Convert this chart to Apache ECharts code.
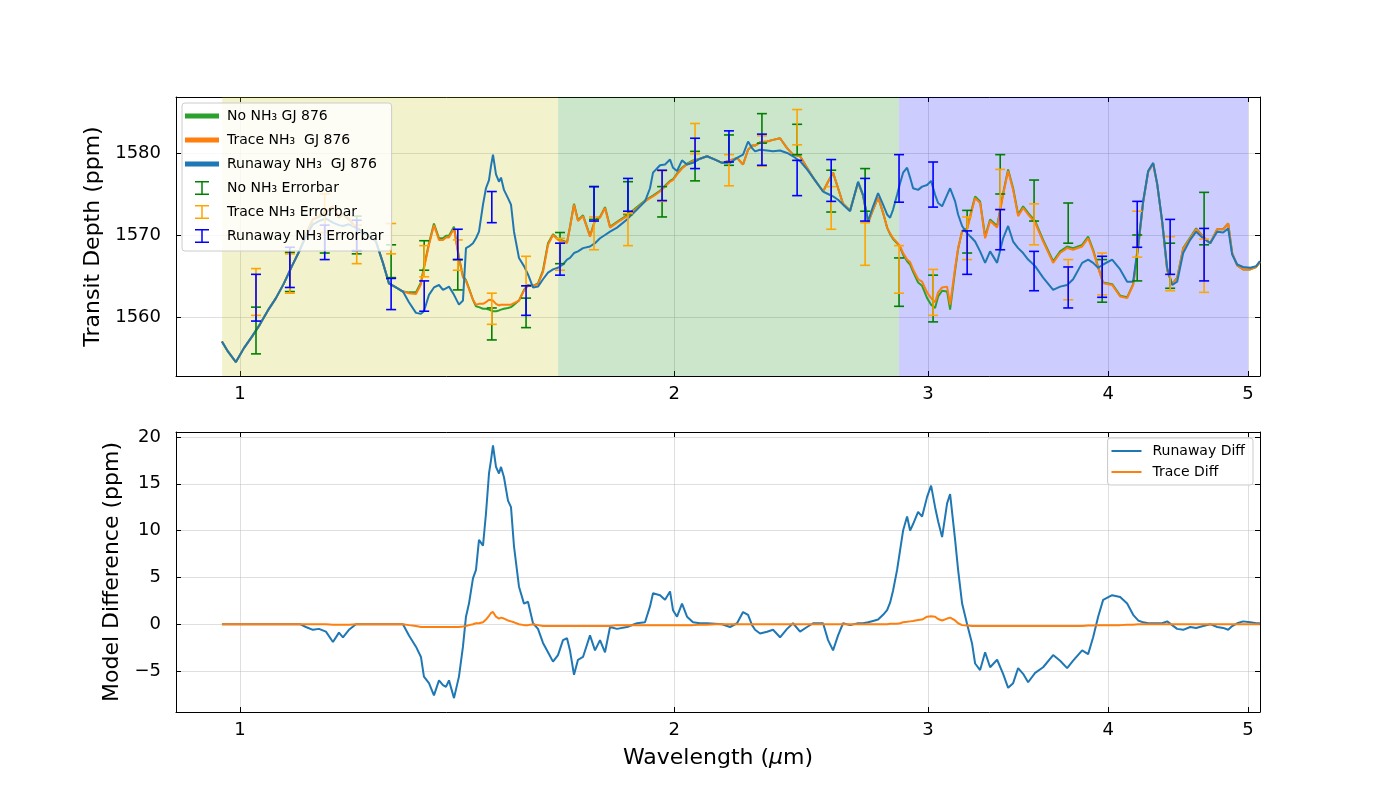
<!DOCTYPE html>
<html>
<head>
<meta charset="utf-8">
<title>GJ 876 NH3 transit depth models</title>
<script src="https://cdn.jsdelivr.net/npm/echarts@6/dist/echarts.min.js"></script>
<style>
html, body { margin: 0; padding: 0; background: #ffffff; }
#chart { width: 1400px; height: 800px; }
</style>
</head>
<body>
<div id="chart"></div>
<script>
// model spectra (wavelength in micron, depth in ppm)
var wavelength = [
  0.9717, 0.9810, 0.9936, 1.0064, 1.0194, 1.0325, 1.0457, 1.0592, 1.0728, 1.0866,
  1.1006, 1.1111, 1.1236, 1.1344, 1.1472, 1.1601, 1.1713, 1.1788, 1.1901, 1.2035,
  1.2170, 1.2307, 1.2426, 1.2565, 1.2686, 1.2829, 1.2973, 1.3098, 1.3245, 1.3351,
  1.3415, 1.3523, 1.3631, 1.3741, 1.3829, 1.3895, 1.3962, 1.4074, 1.4186, 1.4277,
  1.4346, 1.4415, 1.4507, 1.4577, 1.4647, 1.4741, 1.4811, 1.4883, 1.4930, 1.4978,
  1.5050, 1.5122, 1.5171, 1.5243, 1.5341, 1.5415, 1.5489, 1.5613, 1.5738, 1.5839,
  1.5966, 1.6094, 1.6223, 1.6353, 1.6484, 1.6616, 1.6749, 1.6857, 1.6937, 1.7046,
  1.7155, 1.7293, 1.7487, 1.7627, 1.7769, 1.7911, 1.8055, 1.8258, 1.8551, 1.8850,
  1.9092, 1.9245, 1.9338, 1.9555, 1.9712, 1.9870, 1.9965, 2.0093, 2.0254, 2.0417,
  2.0613, 2.0845, 2.1079, 2.1350, 2.1590, 2.1868, 2.2114, 2.2327, 2.2506, 2.2650,
  2.2759, 2.2941, 2.3199, 2.3422, 2.3686, 2.3952, 2.4182, 2.4454, 2.4729, 2.4967,
  2.5369, 2.5572, 2.5777, 2.5984, 2.6192, 2.6487, 2.6827, 2.7042, 2.7259, 2.7478,
  2.7698, 2.7920, 2.8099, 2.8234, 2.8369, 2.8551, 2.8688, 2.8826, 2.9011, 2.9150,
  2.9290, 2.9525, 2.9714, 2.9952, 3.0144, 3.0337, 3.0483, 3.0678, 3.0924, 3.1073,
  3.1322, 3.1472, 3.1674, 3.1928, 3.2184, 3.2338, 3.2597, 3.2859, 3.3122, 3.3494,
  3.3817, 3.4088, 3.4361, 3.4637, 3.4914, 3.5194, 3.5590, 3.6047, 3.6628, 3.7039,
  3.7456, 3.7816, 3.8364, 3.8733, 3.9043, 3.9356, 3.9672, 4.0246, 4.0764, 4.1222,
  4.1619, 4.1952, 4.2288, 4.2627, 4.2969, 4.3244, 4.3591, 4.3941, 4.4293, 4.4648,
  4.5078, 4.5584, 4.6023, 4.6541, 4.7064, 4.7593, 4.8051, 4.8436, 4.8746, 4.9137,
  4.9610, 5.0168, 5.0651, 5.0950
];

var noNH3 = [
  1557.0, 1555.8, 1554.5, 1556.2, 1557.6, 1559.1, 1560.8, 1562.3, 1564.1, 1566.2,
  1568.2, 1570.1, 1571.9, 1572.2, 1572.8, 1573.4, 1572.1, 1572.5, 1571.9, 1570.9,
  1570.4, 1569.8, 1569.2, 1566.6, 1564.1, 1563.6, 1563.1, 1563.0, 1563.0, 1564.2,
  1566.1, 1569.0, 1571.4, 1569.6, 1569.6, 1569.9, 1569.9, 1571.0, 1567.3, 1565.0,
  1564.5, 1563.5, 1562.1, 1561.3, 1561.2, 1561.0, 1561.0, 1560.9, 1560.8, 1560.7,
  1560.7, 1560.8, 1560.9, 1561.0, 1561.1, 1561.2, 1561.5, 1562.0, 1563.3, 1563.9,
  1563.8, 1564.1, 1565.7, 1569.0, 1570.1, 1569.5, 1569.3, 1569.1, 1571.0, 1573.8,
  1571.8, 1572.4, 1569.9, 1571.8, 1572.2, 1573.4, 1571.0, 1571.6, 1572.4, 1573.4,
  1574.2, 1574.6, 1574.8, 1575.4, 1576.0, 1576.6, 1576.8, 1577.5, 1578.2, 1578.7,
  1579.1, 1579.3, 1579.6, 1579.2, 1578.8, 1579.1, 1579.4, 1578.6, 1580.4, 1580.9,
  1580.9, 1581.3, 1581.4, 1581.6, 1581.8, 1580.6, 1579.8, 1579.6, 1578.2, 1577.0,
  1575.3, 1576.5, 1577.6, 1575.7, 1573.8, 1573.0, 1576.4, 1574.8, 1571.5, 1573.1,
  1574.6, 1572.7, 1570.9, 1570.1, 1569.5, 1569.0, 1568.5, 1567.6, 1566.8, 1566.4,
  1565.5, 1564.2, 1563.8, 1562.3, 1561.5, 1561.1, 1562.5, 1563.2, 1563.1, 1560.9,
  1565.7, 1568.3, 1570.5, 1570.8, 1573.3, 1574.7, 1574.1, 1569.8, 1571.9, 1571.1,
  1575.1, 1578.0, 1575.7, 1572.5, 1573.5, 1572.7, 1571.7, 1569.4, 1566.8, 1568.0,
  1568.6, 1568.4, 1568.8, 1569.8, 1568.2, 1566.1, 1564.2, 1564.0, 1562.6, 1562.4,
  1564.0, 1568.5, 1574.0, 1577.7, 1578.7, 1576.2, 1571.6, 1565.7, 1564.0, 1564.8,
  1568.4, 1569.7, 1570.8, 1569.8, 1569.0, 1570.7, 1570.7, 1571.4, 1567.8, 1566.3,
  1565.8, 1565.8, 1566.1, 1566.7
];

var traceNH3 = [
  1557.0, 1555.8, 1554.5, 1556.2, 1557.6, 1559.1, 1560.8, 1562.3, 1564.1, 1566.2,
  1568.2, 1570.1, 1571.9, 1572.3, 1572.9, 1573.5, 1572.2, 1572.6, 1572.0, 1570.9,
  1570.4, 1569.8, 1569.2, 1566.6, 1564.1, 1563.6, 1563.1, 1562.9, 1562.8, 1564.0,
  1565.9, 1568.8, 1571.2, 1569.4, 1569.4, 1569.7, 1569.7, 1570.8, 1567.1, 1564.8,
  1564.4, 1563.4, 1562.1, 1561.5, 1561.6, 1561.6, 1561.8, 1562.1, 1562.2, 1562.0,
  1561.6, 1561.4, 1561.5, 1561.5, 1561.5, 1561.5, 1561.7, 1562.0, 1563.2, 1563.8,
  1563.8, 1564.0, 1565.5, 1568.8, 1570.0, 1569.4, 1569.2, 1569.0, 1570.9, 1573.7,
  1571.7, 1572.3, 1569.8, 1571.7, 1572.1, 1573.3, 1570.9, 1571.5, 1572.3, 1573.3,
  1574.1, 1574.5, 1574.7, 1575.3, 1575.9, 1576.5, 1576.7, 1577.4, 1578.1, 1578.6,
  1579.0, 1579.3, 1579.6, 1579.2, 1578.8, 1579.1, 1579.4, 1578.6, 1580.4, 1580.9,
  1580.9, 1581.3, 1581.4, 1581.6, 1581.8, 1580.6, 1579.8, 1579.6, 1578.2, 1577.0,
  1575.3, 1576.5, 1577.6, 1575.7, 1573.8, 1573.0, 1576.4, 1574.8, 1571.5, 1573.1,
  1574.6, 1572.7, 1570.9, 1570.2, 1569.6, 1569.1, 1568.6, 1567.8, 1567.0, 1566.7,
  1565.8, 1564.6, 1564.3, 1563.0, 1562.3, 1561.8, 1563.0, 1563.6, 1563.7, 1561.5,
  1566.0, 1568.4, 1570.4, 1570.7, 1573.1, 1574.5, 1573.9, 1569.6, 1571.7, 1570.9,
  1574.9, 1577.8, 1575.5, 1572.3, 1573.3, 1572.5, 1571.5, 1569.2, 1566.6, 1567.8,
  1568.4, 1568.2, 1568.6, 1569.6, 1568.0, 1566.0, 1564.1, 1563.9, 1562.5, 1562.3,
  1563.9, 1568.4, 1574.0, 1577.7, 1578.7, 1576.2, 1571.6, 1565.7, 1564.0, 1564.7,
  1568.3, 1569.6, 1570.7, 1569.8, 1569.0, 1570.7, 1570.7, 1571.4, 1567.8, 1566.3,
  1565.8, 1565.8, 1566.1, 1566.7
];

var runawayNH3 = [
  1557.0, 1555.8, 1554.5, 1556.2, 1557.6, 1559.1, 1560.8, 1562.3, 1564.1, 1566.2,
  1568.2, 1569.8, 1571.3, 1571.7, 1572.0, 1571.5, 1571.2, 1571.1, 1571.3, 1570.9,
  1570.4, 1569.8, 1569.2, 1566.6, 1564.1, 1563.6, 1563.1, 1561.8, 1560.5, 1560.4,
  1560.7, 1562.7, 1563.6, 1563.9, 1563.3, 1563.5, 1563.7, 1562.7, 1561.5, 1562.0,
  1568.4, 1568.6, 1569.0, 1569.6, 1570.4, 1573.7, 1575.7, 1576.7, 1578.4, 1579.8,
  1577.4, 1576.5, 1577.0, 1575.5, 1574.5, 1573.7, 1570.4, 1567.2, 1566.2, 1565.2,
  1563.6, 1563.7, 1564.6, 1565.4, 1565.8, 1566.0, 1566.4, 1567.0, 1567.2, 1567.8,
  1568.0, 1568.4, 1568.6, 1569.0, 1569.6, 1570.0, 1570.4, 1570.9, 1571.9, 1573.1,
  1574.1, 1575.7, 1577.6, 1578.5, 1578.6, 1579.2, 1578.2, 1577.8, 1579.1, 1578.6,
  1578.8, 1579.3, 1579.6, 1579.2, 1578.8, 1578.8, 1579.4, 1579.8, 1581.4, 1580.6,
  1580.2, 1580.4, 1580.3, 1580.2, 1580.3, 1580.0, 1579.6, 1579.0, 1578.0, 1577.0,
  1575.3, 1575.0, 1574.7, 1574.3, 1573.7, 1572.9, 1576.5, 1574.9, 1571.7, 1573.5,
  1575.1, 1573.7, 1572.5, 1572.1, 1573.1, 1574.9, 1576.3, 1577.6, 1578.2, 1577.0,
  1575.7, 1575.5, 1575.9, 1576.1, 1576.6, 1574.9, 1573.9, 1573.5, 1574.9, 1575.7,
  1574.1, 1572.5, 1571.1, 1570.2, 1569.6, 1569.2, 1568.0, 1566.6, 1568.0, 1566.6,
  1569.6, 1571.1, 1569.2, 1568.4, 1567.8, 1567.0, 1566.2, 1564.8, 1563.3, 1563.7,
  1563.9, 1564.6, 1566.6, 1567.0, 1566.6, 1566.0, 1566.4, 1567.0, 1565.8, 1564.3,
  1564.3, 1568.8, 1574.1, 1577.8, 1578.8, 1576.3, 1571.7, 1566.0, 1563.9, 1564.3,
  1567.8, 1569.4, 1570.4, 1569.6, 1569.0, 1570.4, 1570.3, 1570.8, 1567.6, 1566.4,
  1566.1, 1566.0, 1566.2, 1566.8
];

var runawayDiff = [
  0.0, 0.0, 0.0, 0.0, 0.0, 0.0, 0.0, 0.0, 0.0, 0.0,
  0.0, -0.3, -0.6, -0.5, -0.8, -1.9, -0.9, -1.4, -0.6, 0.0,
  0.0, 0.0, 0.0, 0.0, 0.0, 0.0, 0.0, -1.2, -2.4, -3.5,
  -5.6, -6.3, -7.6, -6.0, -6.5, -6.7, -6.0, -7.9, -5.6, -2.4,
  0.8, 2.2, 4.9, 5.8, 9.0, 8.4, 11.8, 16.1, 17.5, 19.1,
  16.8, 16.1, 16.8, 15.7, 13.2, 12.5, 8.3, 4.0, 2.2, 2.4,
  0.1, -0.5, -2.0, -3.0, -4.0, -3.3, -1.7, -1.5, -2.8, -5.4,
  -3.8, -3.5, -1.2, -2.8, -1.7, -3.0, -0.3, -0.5, -0.3, 0.1,
  0.2, 1.9, 3.3, 3.1, 2.6, 3.5, 1.5, 0.8, 2.2, 0.8,
  0.2, 0.1, 0.1, 0.05, 0.0, -0.3, 0.1, 1.3, 1.0, -0.1,
  -0.6, -1.0, -0.8, -0.6, -1.4, -0.5, 0.1, -0.8, -0.3, 0.1,
  0.1, -1.7, -2.8, -1.2, 0.1, -0.1, 0.1, 0.1, 0.2, 0.35,
  0.5, 1.0, 1.5, 2.3, 3.6, 5.8, 7.9, 10.0, 11.5, 10.0,
  10.7, 12.0, 11.5, 13.6, 14.8, 12.5, 11.0, 9.3, 12.9, 13.9,
  9.0, 5.8, 2.2, 0.0, -2.1, -4.2, -4.9, -3.0, -4.6, -3.8,
  -5.3, -6.8, -6.3, -4.7, -5.3, -6.2, -5.2, -4.6, -3.3, -3.9,
  -4.7, -3.9, -2.8, -3.2, -1.4, 0.8, 2.6, 3.1, 2.9, 2.2,
  1.0, 0.4, 0.2, 0.1, 0.1, 0.1, 0.1, 0.3, -0.1, -0.5,
  -0.6, -0.3, -0.4, -0.2, 0.0, -0.3, -0.4, -0.6, -0.2, 0.1,
  0.3, 0.2, 0.1, 0.1
];

var traceDiff = [
  0.0, 0.0, 0.0, 0.0, 0.0, 0.0, 0.0, 0.0, 0.0, 0.0,
  0.0, 0.0, 0.0, 0.0, 0.0, -0.05, -0.05, -0.05, -0.05, 0.0,
  0.0, 0.0, 0.0, 0.0, 0.0, 0.0, 0.0, -0.1, -0.2, -0.3,
  -0.3, -0.3, -0.3, -0.3, -0.3, -0.3, -0.3, -0.3, -0.3, -0.25,
  -0.2, -0.1, 0.0, 0.1, 0.1, 0.2, 0.5, 0.9, 1.2, 1.3,
  0.8, 0.6, 0.7, 0.6, 0.4, 0.3, 0.2, 0.0, -0.1, -0.1,
  0.0, -0.1, -0.2, -0.2, -0.2, -0.2, -0.2, -0.2, -0.2, -0.2,
  -0.2, -0.2, -0.2, -0.2, -0.2, -0.2, -0.2, -0.1, -0.1, -0.1,
  -0.1, -0.1, -0.1, -0.1, -0.1, -0.1, -0.1, -0.1, -0.1, -0.1,
  -0.1, -0.05, -0.05, 0.0, 0.0, 0.0, 0.0, 0.0, 0.0, 0.0,
  0.0, 0.0, 0.0, 0.0, 0.0, 0.0, 0.0, 0.0, 0.0, 0.0,
  0.0, 0.0, 0.0, 0.0, 0.0, 0.0, 0.0, 0.0, 0.0, 0.0,
  0.0, 0.0, 0.0, 0.05, 0.05, 0.05, 0.1, 0.2, 0.25, 0.3,
  0.35, 0.45, 0.5, 0.8, 0.85, 0.8, 0.55, 0.4, 0.6, 0.7,
  0.4, 0.1, -0.1, -0.15, -0.2, -0.2, -0.2, -0.2, -0.2, -0.2,
  -0.2, -0.2, -0.2, -0.2, -0.2, -0.2, -0.2, -0.2, -0.2, -0.2,
  -0.2, -0.2, -0.2, -0.15, -0.15, -0.1, -0.1, -0.1, -0.1, -0.05,
  -0.05, 0.0, 0.0, 0.0, 0.0, 0.0, 0.0, 0.0, 0.0, 0.0,
  0.0, 0.0, 0.0, 0.0, 0.0, 0.0, 0.0, 0.0, 0.0, 0.0,
  0.0, 0.0, 0.0, 0.0
];

// simulated observations: bar position and lower / upper end per model
var errWavelength = [1.026, 1.083, 1.145, 1.205, 1.273, 1.342, 1.416, 1.495, 1.579, 1.667,
  1.760, 1.858, 1.962, 2.068, 2.183, 2.301, 2.434, 2.570, 2.713, 2.864,
  3.024, 3.193, 3.366, 3.553, 3.752, 3.961, 4.189, 4.415, 4.661];
var noErrLow = [1555.5, 1563.1, 1567.8, 1567.7, 1564.8, 1565.7, 1563.3, 1557.2, 1558.7, 1566.5,
  1571.9, 1572.5, 1572.2, 1576.6, 1578.5, 1581.2, 1579.8, 1572.8, 1572.9, 1561.3,
  1559.4, 1567.8, 1575.0, 1571.7, 1569.0, 1561.8, 1564.4, 1563.5, 1568.8];
var noErrHigh = [1561.2, 1567.9, 1572.5, 1572.3, 1568.8, 1569.3, 1567.0, 1561.1, 1562.3, 1570.3,
  1575.9, 1576.5, 1575.9, 1580.2, 1582.2, 1584.8, 1583.5, 1577.9, 1578.1, 1567.2,
  1565.1, 1573.0, 1579.8, 1576.7, 1573.9, 1567.0, 1570.0, 1569.0, 1575.2];
var traceErrLow = [1560.2, 1562.9, 1570.3, 1566.5, 1567.7, 1564.9, 1565.7, 1559.1, 1563.8, 1565.7,
  1568.2, 1568.7, 1574.1, 1579.9, 1576.0, 1578.4, 1581.0, 1570.7, 1566.3, 1562.9,
  1560.2, 1567.0, 1573.1, 1568.8, 1562.1, 1562.7, 1567.3, 1563.2, 1563.0];
var traceErrHigh = [1565.9, 1567.7, 1575.0, 1571.2, 1571.4, 1568.7, 1569.4, 1562.9, 1567.4, 1569.6,
  1572.2, 1572.6, 1577.8, 1583.6, 1579.8, 1582.1, 1585.3, 1575.9, 1571.5, 1568.7,
  1565.8, 1572.2, 1578.0, 1573.8, 1567.0, 1567.8, 1572.9, 1569.8, 1569.5];
var runErrLow = [1559.5, 1563.6, 1567.0, 1568.1, 1560.9, 1560.7, 1567.0, 1571.5, 1560.2, 1565.1,
  1571.7, 1572.9, 1574.2, 1578.1, 1578.9, 1578.5, 1574.8, 1574.1, 1571.7, 1574.0,
  1573.4, 1565.2, 1568.2, 1563.2, 1561.1, 1562.4, 1568.5, 1565.2, 1564.4];
var runErrHigh = [1565.2, 1568.5, 1571.2, 1571.8, 1564.7, 1564.4, 1570.7, 1575.3, 1563.8, 1569.0,
  1575.9, 1576.9, 1577.9, 1581.8, 1582.7, 1582.3, 1579.1, 1579.2, 1576.9, 1579.8,
  1578.9, 1570.5, 1573.1, 1568.0, 1566.1, 1567.4, 1574.1, 1571.9, 1570.8];

// instrument bands (micron) and axis ticks
var bandEdges = [0.972, 1.662, 2.864, 5.0];
var xTicks = [1, 2, 3, 4, 5];
var depthTicks = [1560, 1570, 1580];
var diffTicks = [-5, 0, 5, 10, 15, 20];

var myChart = echarts.init(document.getElementById('chart'));

var font = 'DejaVu Sans';
var gridColor = 'rgba(176,176,176,0.4)';
var lineIcon = 'path://M0,0 H34 V5 H0 Z';
var thinIcon = 'path://M0,0 H30 V2 H0 Z';
var barIcon = 'path://M0,0 H14 V1.5 H0 Z M6.25,0 H7.75 V14 H6.25 Z M0,12.5 H14 V14 H0 Z';

function pairs(xs, ys) {
	return xs.map(function (x, i) { return [x, ys[i]]; });
}

function tickText(v) {
	var r = Math.round(v);
	return r < 0 ? '\u2212' + Math.abs(r) : String(r);
}

function xAxisOf(grid, pos, labelled) {
	return {
		type: 'log', logBase: 10, gridIndex: grid, position: pos,
		min: 0.903, max: 5.096,
		axisLine: { show: true, onZero: false, lineStyle: { color: '#000', width: 1 } },
		axisTick: { show: true, inside: true, length: 5, customValues: xTicks, lineStyle: { color: '#000', width: 1 } },
		axisLabel: { show: labelled, customValues: xTicks, formatter: tickText, fontSize: 18, color: '#000', margin: 9, fontFamily: font },
		splitLine: { show: labelled, lineStyle: { color: gridColor, width: 1 } },
		minorTick: { show: false },
		minorSplitLine: { show: false }
	};
}

function yAxisOf(grid, pos, labelled, min, max, ticks, step) {
	return {
		type: 'value', gridIndex: grid, position: pos,
		min: min, max: max, minInterval: step, maxInterval: step,
		axisLine: { show: true, onZero: false, lineStyle: { color: '#000', width: 1 } },
		axisTick: { show: true, inside: true, length: 5, customValues: ticks, lineStyle: { color: '#000', width: 1 } },
		axisLabel: { show: labelled, customValues: ticks, formatter: tickText, fontSize: 18, color: '#000', margin: 15, fontFamily: font },
		splitLine: { show: labelled, lineStyle: { color: gridColor, width: 1 } }
	};
}

function modelLine(name, values, color, grid) {
	return {
		name: name, type: 'line', xAxisIndex: grid * 2, yAxisIndex: grid * 2,
		data: pairs(wavelength, values),
		showSymbol: false, symbol: 'none', silent: true, z: 3,
		color: color,
		lineStyle: { color: color, width: 2 }
	};
}

function errorBars(name, low, high, color) {
	return {
		name: name, type: 'custom', xAxisIndex: 0, yAxisIndex: 0, z: 4, silent: true,
		itemStyle: { color: color },
		data: errWavelength.map(function (w, i) { return [w, low[i], high[i]]; }),
		encode: { x: 0, y: [1, 2] },
		renderItem: function (params, api) {
			var top = api.coord([api.value(0), api.value(2)]);
			var bot = api.coord([api.value(0), api.value(1)]);
			var cap = 5;
			var style = { stroke: color, lineWidth: 1.6, fill: null };
			return {
				type: 'group',
				children: [
					{ type: 'line', shape: { x1: top[0], y1: top[1], x2: bot[0], y2: bot[1] }, style: style },
					{ type: 'line', shape: { x1: top[0] - cap, y1: top[1], x2: top[0] + cap, y2: top[1] }, style: style },
					{ type: 'line', shape: { x1: bot[0] - cap, y1: bot[1], x2: bot[0] + cap, y2: bot[1] }, style: style }
				]
			};
		}
	};
}

var xTop = xAxisOf(0, 'bottom', true);
var xBottom = xAxisOf(1, 'bottom', true);
xBottom.name = '{a|Wavelength (}{i|\u03bc}{a|m)}';
xBottom.nameLocation = 'middle';
xBottom.nameGap = 35;
xBottom.nameTextStyle = {
	rich: {
		a: { fontSize: 22, color: '#000', fontFamily: font },
		i: { fontSize: 22, color: '#000', fontFamily: font, fontStyle: 'italic' }
	}
};

var yTop = yAxisOf(0, 'left', true, 1552.8, 1586.83, depthTicks, 10);
yTop.name = 'Transit Depth (ppm)';
yTop.nameLocation = 'middle';
yTop.nameGap = 71;
yTop.nameTextStyle = { fontSize: 22, color: '#000', fontFamily: font };

var yBottom = yAxisOf(1, 'left', true, -9.38, 20.53, diffTicks, 5);
yBottom.name = 'Model Difference (ppm)';
yBottom.nameLocation = 'middle';
yBottom.nameGap = 48;
yBottom.nameTextStyle = { fontSize: 22, color: '#000', fontFamily: font };

var option = {
	animation: false,
	backgroundColor: '#ffffff',
	textStyle: { fontFamily: font },
	grid: [
		{ left: 176, right: 140, top: 97, height: 279 },
		{ left: 176, right: 140, top: 432, height: 280 }
	],
	xAxis: [
		xTop, xAxisOf(0, 'top', false),
		xBottom, xAxisOf(1, 'top', false)
	],
	yAxis: [
		yTop, yAxisOf(0, 'right', false, 1552.8, 1586.83, depthTicks, 10),
		yBottom, yAxisOf(1, 'right', false, -9.38, 20.53, diffTicks, 5)
	],
	legend: [{
		orient: 'vertical', left: 182, top: 103, z: 20,
		itemWidth: 34, itemHeight: 14, itemGap: 10,
		selectedMode: false,
		backgroundColor: 'rgba(255,255,255,0.8)',
		borderColor: '#cccccc', borderWidth: 1, borderRadius: 3,
		padding: [6, 8, 8, 3],
		itemStyle: { borderWidth: 0 },
		textStyle: { fontSize: 14, color: '#000', fontFamily: font, lineHeight: 14, padding: [0, 0, 0, 3] },
		data: [
			{ name: 'No NH\u2083 GJ 876', icon: lineIcon },
			{ name: 'Trace NH\u2083  GJ 876', icon: lineIcon },
			{ name: 'Runaway NH\u2083  GJ 876', icon: lineIcon },
			{ name: 'No NH\u2083 Errorbar', icon: barIcon },
			{ name: 'Trace NH\u2083 Errorbar', icon: barIcon },
			{ name: 'Runaway NH\u2083 Errorbar', icon: barIcon }
		]
	}, {
		orient: 'vertical', right: 147, top: 438, z: 20,
		itemWidth: 30, itemHeight: 14, itemGap: 7,
		selectedMode: false,
		backgroundColor: 'rgba(255,255,255,0.8)',
		borderColor: '#cccccc', borderWidth: 1, borderRadius: 3,
		padding: [6, 8, 6, 4],
		itemStyle: { borderWidth: 0 },
		textStyle: { fontSize: 14, color: '#000', fontFamily: font, lineHeight: 14, padding: [0, 0, 0, 6] },
		data: [
			{ name: 'Runaway Diff', icon: thinIcon },
			{ name: 'Trace Diff', icon: thinIcon }
		]
	}],
	series: [
		{
			name: 'bands', type: 'line', xAxisIndex: 0, yAxisIndex: 0, data: [], silent: true, z: 1,
			markArea: {
				silent: true,
				data: [
					[{ xAxis: bandEdges[0], itemStyle: { color: 'rgba(191,191,0,0.2)' } }, { xAxis: bandEdges[1] }],
					[{ xAxis: bandEdges[1], itemStyle: { color: 'rgba(0,128,0,0.2)' } }, { xAxis: bandEdges[2] }],
					[{ xAxis: bandEdges[2], itemStyle: { color: 'rgba(0,0,255,0.2)' } }, { xAxis: bandEdges[3] }]
				]
			}
		},
		modelLine('No NH\u2083 GJ 876', noNH3, '#2ca02c', 0),
		modelLine('Trace NH\u2083  GJ 876', traceNH3, '#ff7f0e', 0),
		modelLine('Runaway NH\u2083  GJ 876', runawayNH3, '#1f77b4', 0),
		errorBars('No NH\u2083 Errorbar', noErrLow, noErrHigh, '#008000'),
		errorBars('Trace NH\u2083 Errorbar', traceErrLow, traceErrHigh, '#ffa500'),
		errorBars('Runaway NH\u2083 Errorbar', runErrLow, runErrHigh, '#0000ff'),
		modelLine('Runaway Diff', runawayDiff, '#1f77b4', 1),
		modelLine('Trace Diff', traceDiff, '#ff7f0e', 1)
	]
};

myChart.setOption(option);
</script>
</body>
</html>
